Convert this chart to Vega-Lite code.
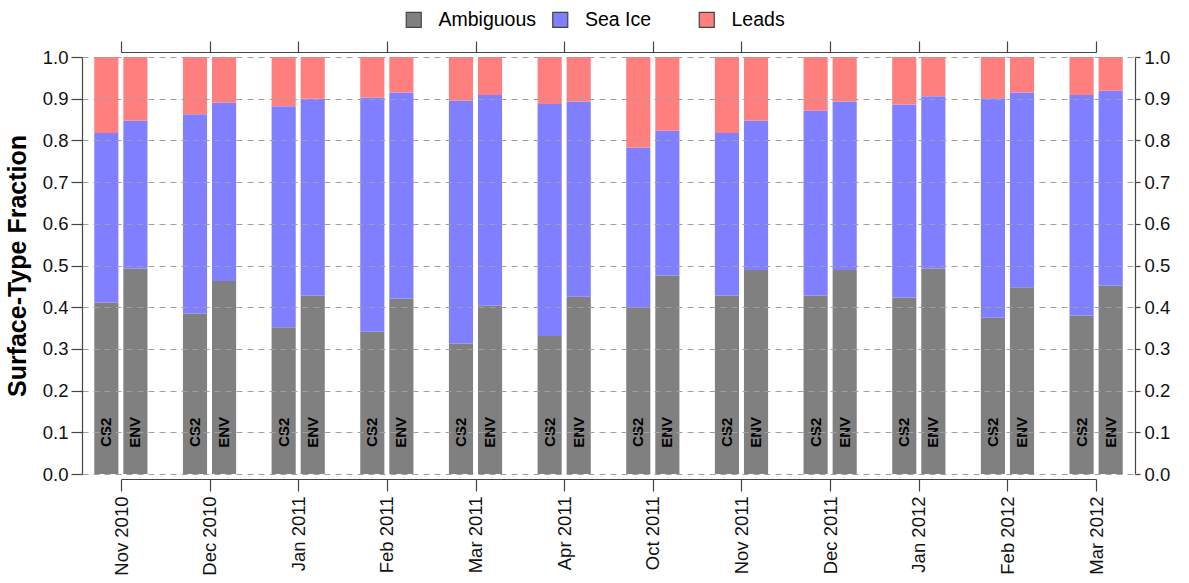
{
  "$schema": "https://vega.github.io/schema/vega-lite/v6.json",
  "width": 1053,
  "height": 417,
  "autosize": {"type": "none"},
  "padding": {"left": 82, "top": 57, "right": 54, "bottom": 109},
  "config": {
    "font": "Liberation Sans",
    "view": {"stroke": null},
    "axis": {"domainColor": "#444", "tickColor": "#444", "labelColor": "#111", "labelFont": "Liberation Sans", "titleFont": "Liberation Sans", "domainWidth": 1.2, "tickWidth": 1.2}
  },
  "data": {"values": [
    {"month": "Nov 2010", "sensor": "CS2", "type": "Ambiguous", "value": 0.411},
    {"month": "Nov 2010", "sensor": "CS2", "type": "Sea Ice", "value": 0.407},
    {"month": "Nov 2010", "sensor": "CS2", "type": "Leads", "value": 0.182},
    {"month": "Nov 2010", "sensor": "ENV", "type": "Ambiguous", "value": 0.493},
    {"month": "Nov 2010", "sensor": "ENV", "type": "Sea Ice", "value": 0.354},
    {"month": "Nov 2010", "sensor": "ENV", "type": "Leads", "value": 0.153},
    {"month": "Dec 2010", "sensor": "CS2", "type": "Ambiguous", "value": 0.385},
    {"month": "Dec 2010", "sensor": "CS2", "type": "Sea Ice", "value": 0.478},
    {"month": "Dec 2010", "sensor": "CS2", "type": "Leads", "value": 0.137},
    {"month": "Dec 2010", "sensor": "ENV", "type": "Ambiguous", "value": 0.463},
    {"month": "Dec 2010", "sensor": "ENV", "type": "Sea Ice", "value": 0.427},
    {"month": "Dec 2010", "sensor": "ENV", "type": "Leads", "value": 0.110},
    {"month": "Jan 2011", "sensor": "CS2", "type": "Ambiguous", "value": 0.352},
    {"month": "Jan 2011", "sensor": "CS2", "type": "Sea Ice", "value": 0.530},
    {"month": "Jan 2011", "sensor": "CS2", "type": "Leads", "value": 0.118},
    {"month": "Jan 2011", "sensor": "ENV", "type": "Ambiguous", "value": 0.428},
    {"month": "Jan 2011", "sensor": "ENV", "type": "Sea Ice", "value": 0.472},
    {"month": "Jan 2011", "sensor": "ENV", "type": "Leads", "value": 0.100},
    {"month": "Feb 2011", "sensor": "CS2", "type": "Ambiguous", "value": 0.341},
    {"month": "Feb 2011", "sensor": "CS2", "type": "Sea Ice", "value": 0.562},
    {"month": "Feb 2011", "sensor": "CS2", "type": "Leads", "value": 0.097},
    {"month": "Feb 2011", "sensor": "ENV", "type": "Ambiguous", "value": 0.421},
    {"month": "Feb 2011", "sensor": "ENV", "type": "Sea Ice", "value": 0.494},
    {"month": "Feb 2011", "sensor": "ENV", "type": "Leads", "value": 0.085},
    {"month": "Mar 2011", "sensor": "CS2", "type": "Ambiguous", "value": 0.313},
    {"month": "Mar 2011", "sensor": "CS2", "type": "Sea Ice", "value": 0.582},
    {"month": "Mar 2011", "sensor": "CS2", "type": "Leads", "value": 0.105},
    {"month": "Mar 2011", "sensor": "ENV", "type": "Ambiguous", "value": 0.404},
    {"month": "Mar 2011", "sensor": "ENV", "type": "Sea Ice", "value": 0.505},
    {"month": "Mar 2011", "sensor": "ENV", "type": "Leads", "value": 0.091},
    {"month": "Apr 2011", "sensor": "CS2", "type": "Ambiguous", "value": 0.331},
    {"month": "Apr 2011", "sensor": "CS2", "type": "Sea Ice", "value": 0.556},
    {"month": "Apr 2011", "sensor": "CS2", "type": "Leads", "value": 0.113},
    {"month": "Apr 2011", "sensor": "ENV", "type": "Ambiguous", "value": 0.425},
    {"month": "Apr 2011", "sensor": "ENV", "type": "Sea Ice", "value": 0.468},
    {"month": "Apr 2011", "sensor": "ENV", "type": "Leads", "value": 0.107},
    {"month": "Oct 2011", "sensor": "CS2", "type": "Ambiguous", "value": 0.400},
    {"month": "Oct 2011", "sensor": "CS2", "type": "Sea Ice", "value": 0.383},
    {"month": "Oct 2011", "sensor": "CS2", "type": "Leads", "value": 0.217},
    {"month": "Oct 2011", "sensor": "ENV", "type": "Ambiguous", "value": 0.476},
    {"month": "Oct 2011", "sensor": "ENV", "type": "Sea Ice", "value": 0.347},
    {"month": "Oct 2011", "sensor": "ENV", "type": "Leads", "value": 0.177},
    {"month": "Nov 2011", "sensor": "CS2", "type": "Ambiguous", "value": 0.428},
    {"month": "Nov 2011", "sensor": "CS2", "type": "Sea Ice", "value": 0.390},
    {"month": "Nov 2011", "sensor": "CS2", "type": "Leads", "value": 0.182},
    {"month": "Nov 2011", "sensor": "ENV", "type": "Ambiguous", "value": 0.489},
    {"month": "Nov 2011", "sensor": "ENV", "type": "Sea Ice", "value": 0.358},
    {"month": "Nov 2011", "sensor": "ENV", "type": "Leads", "value": 0.153},
    {"month": "Dec 2011", "sensor": "CS2", "type": "Ambiguous", "value": 0.428},
    {"month": "Dec 2011", "sensor": "CS2", "type": "Sea Ice", "value": 0.443},
    {"month": "Dec 2011", "sensor": "CS2", "type": "Leads", "value": 0.129},
    {"month": "Dec 2011", "sensor": "ENV", "type": "Ambiguous", "value": 0.489},
    {"month": "Dec 2011", "sensor": "ENV", "type": "Sea Ice", "value": 0.404},
    {"month": "Dec 2011", "sensor": "ENV", "type": "Leads", "value": 0.107},
    {"month": "Jan 2012", "sensor": "CS2", "type": "Ambiguous", "value": 0.423},
    {"month": "Jan 2012", "sensor": "CS2", "type": "Sea Ice", "value": 0.463},
    {"month": "Jan 2012", "sensor": "CS2", "type": "Leads", "value": 0.114},
    {"month": "Jan 2012", "sensor": "ENV", "type": "Ambiguous", "value": 0.493},
    {"month": "Jan 2012", "sensor": "ENV", "type": "Sea Ice", "value": 0.413},
    {"month": "Jan 2012", "sensor": "ENV", "type": "Leads", "value": 0.094},
    {"month": "Feb 2012", "sensor": "CS2", "type": "Ambiguous", "value": 0.375},
    {"month": "Feb 2012", "sensor": "CS2", "type": "Sea Ice", "value": 0.526},
    {"month": "Feb 2012", "sensor": "CS2", "type": "Leads", "value": 0.099},
    {"month": "Feb 2012", "sensor": "ENV", "type": "Ambiguous", "value": 0.448},
    {"month": "Feb 2012", "sensor": "ENV", "type": "Sea Ice", "value": 0.467},
    {"month": "Feb 2012", "sensor": "ENV", "type": "Leads", "value": 0.085},
    {"month": "Mar 2012", "sensor": "CS2", "type": "Ambiguous", "value": 0.380},
    {"month": "Mar 2012", "sensor": "CS2", "type": "Sea Ice", "value": 0.529},
    {"month": "Mar 2012", "sensor": "CS2", "type": "Leads", "value": 0.091},
    {"month": "Mar 2012", "sensor": "ENV", "type": "Ambiguous", "value": 0.452},
    {"month": "Mar 2012", "sensor": "ENV", "type": "Sea Ice", "value": 0.467},
    {"month": "Mar 2012", "sensor": "ENV", "type": "Leads", "value": 0.081}
  ]},
  "layer": [
    {
      "layer": [
        {
          "transform": [{"calculate": "indexof(['Ambiguous','Sea Ice','Leads'], datum.type)", "as": "ord"}],
          "mark": {"type": "bar"},
          "encoding": {
            "x": {"field": "month", "type": "nominal", "sort": ["Nov 2010","Dec 2010","Jan 2011","Feb 2011","Mar 2011","Apr 2011","Oct 2011","Nov 2011","Dec 2011","Jan 2012","Feb 2012","Mar 2012"], "scale": {"paddingInner": 0.4, "paddingOuter": 0.1385}, "axis": null},
            "xOffset": {"field": "sensor", "type": "nominal", "sort": ["CS2","ENV"], "scale": {"paddingInner": 0.17, "paddingOuter": 0}},
            "y": {"field": "value", "type": "quantitative", "stack": "zero", "scale": {"domain": [0, 1], "nice": false},
              "axis": {"orient": "left", "values": [0,0.1,0.2,0.3,0.4,0.5,0.6,0.7,0.8,0.9,1.0], "format": ".1f", "tickSize": 11, "labelPadding": 3, "labelFontSize": 18.5, "grid": true, "gridColor": "#a0a0a0", "gridDash": [6, 5], "gridWidth": 1, "zindex": 1, "title": "Surface-Type Fraction", "titleFontSize": 25, "titleFontWeight": "bold", "titleColor": "#000", "titlePadding": 12}},
            "color": {"field": "type", "type": "nominal", "sort": ["Ambiguous","Sea Ice","Leads"],
              "scale": {"domain": ["Ambiguous","Sea Ice","Leads"], "range": ["#808080","#7f7fff","#ff7f7f"]},
              "legend": {"orient": "none", "legendX": 322, "legendY": -47, "direction": "horizontal", "columns": 3, "gridAlign": "all", "columnPadding": 12.5, "labelOffset": 15, "symbolType": "square", "symbolSize": 225, "symbolStrokeColor": "#444", "symbolStrokeWidth": 1.2, "labelFontSize": 19.5, "labelColor": "#000", "title": null, "padding": 0}},
            "order": {"field": "ord", "type": "quantitative"}
          }
        },
        {
          "transform": [{"filter": "datum.type === 'Ambiguous'"}],
          "mark": {"type": "text", "angle": 270, "fontWeight": "bold", "fontSize": 15, "align": "center", "baseline": "middle", "color": "#000"},
          "encoding": {
            "x": {"field": "month", "type": "nominal", "sort": ["Nov 2010","Dec 2010","Jan 2011","Feb 2011","Mar 2011","Apr 2011","Oct 2011","Nov 2011","Dec 2011","Jan 2012","Feb 2012","Mar 2012"]},
            "xOffset": {"field": "sensor", "type": "nominal", "sort": ["CS2","ENV"]},
            "y": {"datum": 0.1, "type": "quantitative"},
            "text": {"field": "sensor"}
          }
        }
      ]
    },
    {
      "transform": [{"filter": "datum.type === 'Ambiguous' && datum.sensor === 'CS2'"}],
      "mark": {"type": "point", "opacity": 0},
      "encoding": {
        "x": {"field": "month", "type": "nominal", "sort": ["Nov 2010","Dec 2010","Jan 2011","Feb 2011","Mar 2011","Apr 2011","Oct 2011","Nov 2011","Dec 2011","Jan 2012","Feb 2012","Mar 2012"], "scale": {"type": "point", "range": [39, 1014], "padding": 0},
          "axis": {"orient": "bottom", "offset": 5, "tickSize": 12, "labelAngle": 270, "labelFontSize": 18.5, "labelPadding": 5, "labelOverlap": false, "title": null, "grid": false}},
        "y": {"datum": 0, "type": "quantitative", "scale": {"domain": [0, 1], "nice": false},
          "axis": {"orient": "right", "values": [0,0.1,0.2,0.3,0.4,0.5,0.6,0.7,0.8,0.9,1.0], "format": ".1f", "tickSize": 5, "labelPadding": 4, "labelFontSize": 18.5, "grid": false, "title": null}}
      }
    },
    {
      "transform": [{"filter": "datum.type === 'Ambiguous' && datum.sensor === 'CS2'"}],
      "mark": {"type": "point", "opacity": 0},
      "encoding": {
        "x": {"field": "month", "type": "nominal", "sort": ["Nov 2010","Dec 2010","Jan 2011","Feb 2011","Mar 2011","Apr 2011","Oct 2011","Nov 2011","Dec 2011","Jan 2012","Feb 2012","Mar 2012"], "scale": {"type": "point", "range": [39, 1014], "padding": 0},
          "axis": {"orient": "top", "offset": 5, "tickSize": 11, "labels": false, "title": null, "grid": false}}
      }
    }
  ],
  "resolve": {"scale": {"x": "independent", "y": "independent"}, "axis": {"x": "independent", "y": "independent"}}
}
